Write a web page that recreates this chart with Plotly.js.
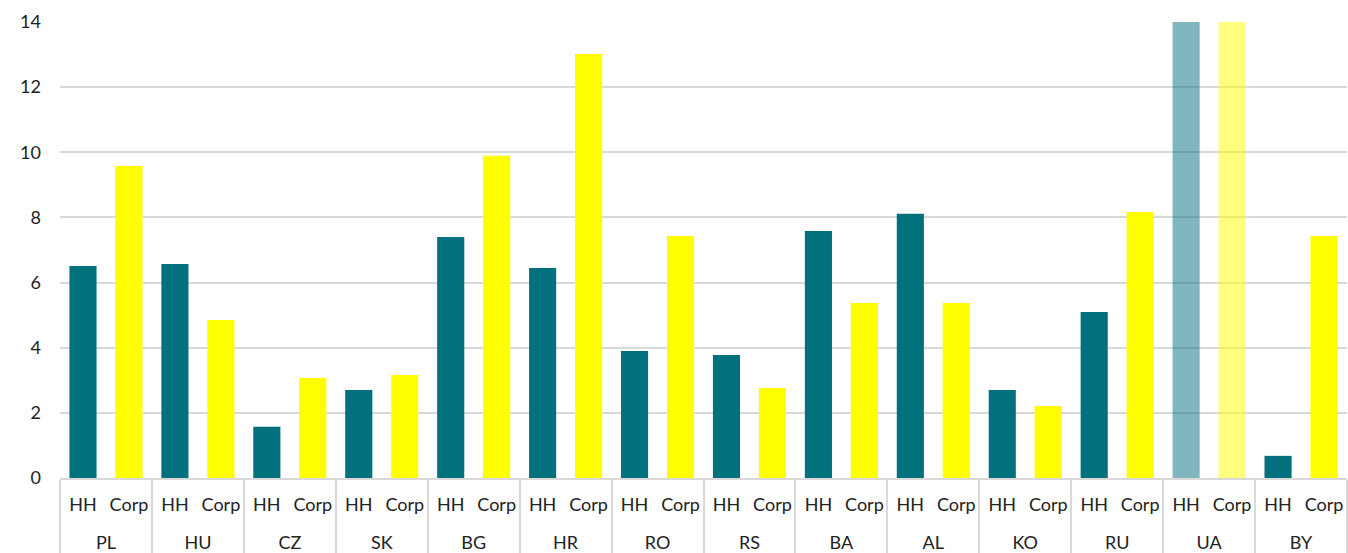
<!DOCTYPE html>
<html>
<head>
<meta charset="utf-8">
<script src="https://cdn.plot.ly/plotly-3.0.1.min.js"></script>
<style>html,body{margin:0;padding:0;background:#fff;}#chart{width:1348px;height:553px;}</style>
</head>
<body>
<div id="chart"></div>
<script>
const countries = ["PL","HU","CZ","SK","BG","HR","RO","RS","BA","AL","KO","RU","UA","BY"];
const segments = ["HH","Corp"];
const hhValues   = [6.51, 6.57, 1.57, 2.70, 7.40, 6.45, 3.90, 3.78, 7.58, 8.11, 2.70, 5.10, 14.6, 0.68];
const corpValues = [9.58, 4.85, 3.07, 3.16, 9.89, 13.02, 7.43, 2.76, 5.37, 5.37, 2.21, 8.17, 14.6, 7.43];
const fadedCountries = ["UA"];
const yTicks = [0, 2, 4, 6, 8, 10, 12, 14];

const lvl1 = [], lvl2 = [], yv = [], colors = [], opac = [];
countries.forEach((c, i) => {
  segments.forEach((s, j) => {
    lvl1.push("<br>" + c); lvl2.push(s);
    yv.push(j === 0 ? hhValues[i] : corpValues[i]);
    colors.push(j === 0 ? "#02707d" : "#ffff00");
    opac.push(fadedCountries.includes(c) ? 0.5 : 1);
  });
});

const trace = {
  type: "bar",
  x: [lvl1, lvl2],
  y: yv,
  marker: {color: colors, opacity: opac, line: {width: 0}},
  hoverinfo: "x+y"
};

const layout = {
  width: 1348, height: 553,
  margin: {l: 60, r: 1, t: 22, b: 75},
  paper_bgcolor: "#fff", plot_bgcolor: "#fff",
  bargap: 0.41,
  showlegend: false,
  font: {family: "Lato, 'DejaVu Sans', sans-serif", size: 18, color: "#222"},
  xaxis: {
    type: "multicategory",
    showdividers: true, dividercolor: "#d9d9d9", dividerwidth: 2,
    showline: true, linecolor: "#d9d9d9", linewidth: 2,
    tickfont: {size: 18, color: "#222"},
    tickangle: 0,
    ticks: "", ticklabelstandoff: 9
  },
  yaxis: {
    range: [0, 14],
    tickvals: yTicks,
    showgrid: true, gridcolor: "#d9d9d9", gridwidth: 2,
    zeroline: false,
    tickfont: {size: 18, color: "#222"},
    ticks: "", ticklabelstandoff: 18
  }
};

Plotly.newPlot("chart", [trace], layout, {displayModeBar: false, staticPlot: true});
</script>
</body>
</html>
